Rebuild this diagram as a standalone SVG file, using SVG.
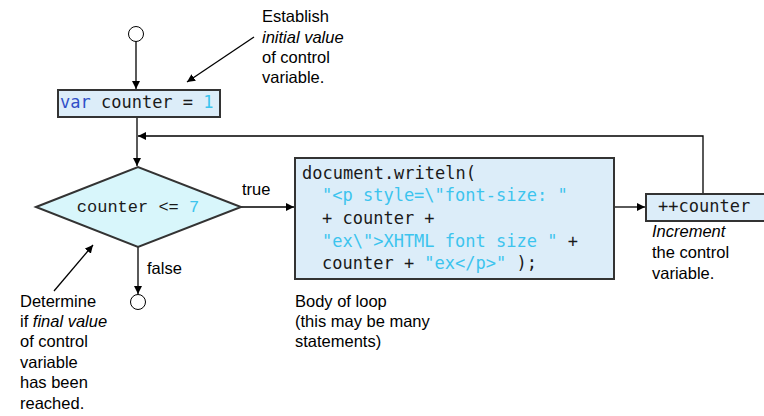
<svg xmlns="http://www.w3.org/2000/svg" width="764" height="416" viewBox="0 0 764 416">
<defs>
<marker id="ah" viewBox="0 0 10 10" refX="10" refY="5" markerWidth="8" markerHeight="8" markerUnits="userSpaceOnUse" orient="auto">
<path d="M0,0 L10,5 L0,10 Z" fill="#000"/>
</marker>
</defs>
<style>
.lbl{font-family:"Liberation Sans",Arial,sans-serif;font-size:16.5px;fill:#000}
.it{font-style:italic}
.code{font-family:"DejaVu Sans Mono",monospace;font-size:17px;fill:#1a1a1a}
.str{fill:#3cc4ee}
.kw{fill:#3050c8}
.box{fill:#dcedf9;stroke:#333;stroke-width:2}
.term{fill:#fff;stroke:#000;stroke-width:1}
.ln{fill:none;stroke:#000;stroke-width:1.3}
</style>
<g id="connectors">
<line class="ln" x1="136" y1="41" x2="136" y2="89" marker-end="url(#ah)"/>
<line class="ln" x1="137" y1="118" x2="137" y2="166" marker-end="url(#ah)"/>
<line class="ln" x1="241" y1="207" x2="294" y2="207" marker-end="url(#ah)"/>
<line class="ln" x1="138" y1="247" x2="138" y2="294" marker-end="url(#ah)"/>
<line class="ln" x1="614" y1="207" x2="645" y2="207" marker-end="url(#ah)"/>
<polyline class="ln" points="703,194 703,136 138,136" marker-end="url(#ah)"/>
<line class="ln" x1="254" y1="37" x2="187" y2="82" marker-end="url(#ah)"/>
<line class="ln" x1="54" y1="291" x2="93" y2="245" marker-end="url(#ah)"/>
</g>
<g id="start">
<circle class="term" cx="136" cy="34" r="7.5"/>
</g>
<g id="init">
<rect class="box" x="58" y="90" width="162" height="27"/>
<text class="code" x="60" y="108"><tspan class="kw">var</tspan> counter = <tspan class="str">1</tspan></text>
</g>
<g id="decision">
<polygon points="36,207 138,167 241,207 138,247" fill="#d8f6fb" stroke="#333" stroke-width="2"/>
<text class="code" x="138" y="212" text-anchor="middle" style="font-family:'Liberation Mono',monospace;font-size:17px">counter &lt;= <tspan class="str">7</tspan></text>
</g>
<g id="body">
<rect class="box" x="295" y="158" width="319" height="121"/>
<text class="code" x="302" y="179">document.writeln(</text>
<text class="code" x="322" y="201"><tspan class="str">"&lt;p style=\"font-size: "</tspan></text>
<text class="code" x="322" y="224">+ counter +</text>
<text class="code" x="322" y="247"><tspan class="str">"ex\"&gt;XHTML font size "</tspan> +</text>
<text class="code" x="322" y="269">counter + <tspan class="str">"ex&lt;/p&gt;"</tspan> );</text>
</g>
<g id="increment">
<rect class="box" x="646" y="194" width="122" height="27"/>
<text class="code" x="658" y="212">++counter</text>
</g>
<g id="end">
<circle class="term" cx="138" cy="302" r="7.5"/>
</g>
<g id="note-init">
<text class="lbl" x="262" y="22">Establish</text>
<text class="lbl it" x="262" y="43">initial value</text>
<text class="lbl" x="262" y="63">of control</text>
<text class="lbl" x="262" y="83">variable.</text>
</g>
<g id="note-final">
<text class="lbl" x="20" y="307">Determine</text>
<text class="lbl" x="20" y="327">if <tspan class="it">final value</tspan></text>
<text class="lbl" x="20" y="347">of control</text>
<text class="lbl" x="20" y="368">variable</text>
<text class="lbl" x="20" y="388">has been</text>
<text class="lbl" x="20" y="409">reached.</text>
</g>
<g id="labels">
<text class="lbl" x="242" y="195">true</text>
<text class="lbl" x="147" y="274">false</text>
<text class="lbl" x="295" y="307">Body of loop</text>
<text class="lbl" x="295" y="327">(this may be many</text>
<text class="lbl" x="295" y="347">statements)</text>
<text class="lbl it" x="652" y="237">Increment</text>
<text class="lbl" x="652" y="258">the control</text>
<text class="lbl" x="652" y="279">variable.</text>
</g>
</svg>
